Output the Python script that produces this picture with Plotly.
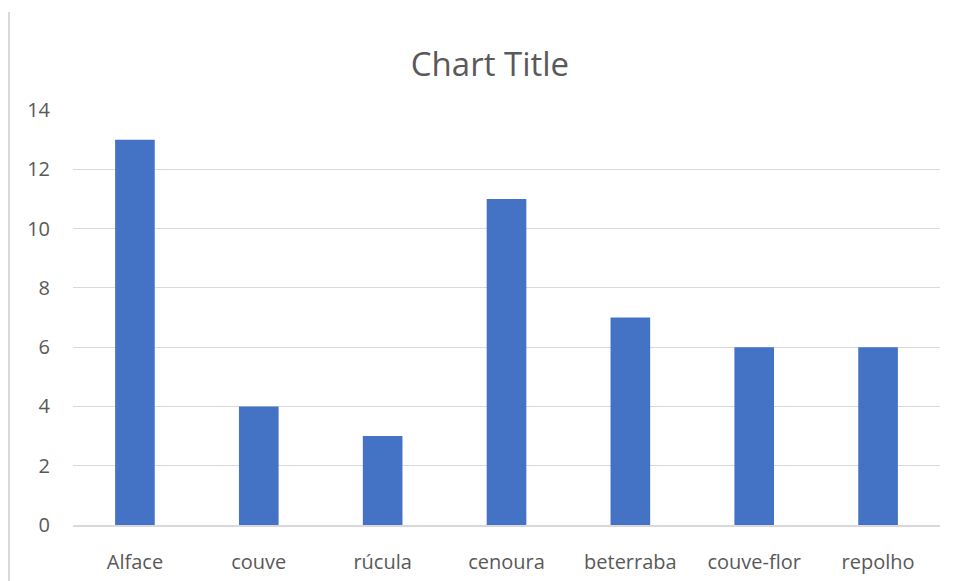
import plotly.graph_objects as go

categories = ["Alface", "couve", "rúcula", "cenoura", "beterraba", "couve-flor", "repolho"]
values = [13, 4, 3, 11, 7, 6, 6]
y_ticks = [0, 2, 4, 6, 8, 10, 12, 14]

fig = go.Figure(go.Bar(x=categories, y=values, marker=dict(color="#4472c4", line=dict(width=0))))

fig.update_layout(
    width=957, height=581,
    margin=dict(l=73, r=17, t=110, b=56, autoexpand=False),
    paper_bgcolor="white", plot_bgcolor="white",
    bargap=0.68,
    showlegend=False,
    font=dict(family="Open Sans", color="#595959", size=20),
    title=dict(text="Chart Title", x=490/957, xanchor="center", xref="container",
               y=1 - 64/581, yanchor="middle", yref="container",
               font=dict(size=33, color="#595959", family="Open Sans")),
)
fig.update_yaxes(range=[0, 14], tickvals=y_ticks, showgrid=True, gridcolor="#d9d9d9", gridwidth=1.3,
                 zeroline=False, showline=False, ticks="", ticklabelstandoff=22, automargin=False,
                 tickfont=dict(size=20, color="#595959"))
fig.update_xaxes(showline=True, linecolor="#d9d9d9", linewidth=1.5, ticks="", ticklabelstandoff=18,
                 automargin=False, tickfont=dict(size=20, color="#595959"))
fig.add_shape(type="line", xref="paper", yref="paper",
              x0=-64/867, x1=-64/867, y0=-56/415, y1=1 + 98/415,
              line=dict(color="#d9d9d9", width=2))

fig.write_html("out.html")
